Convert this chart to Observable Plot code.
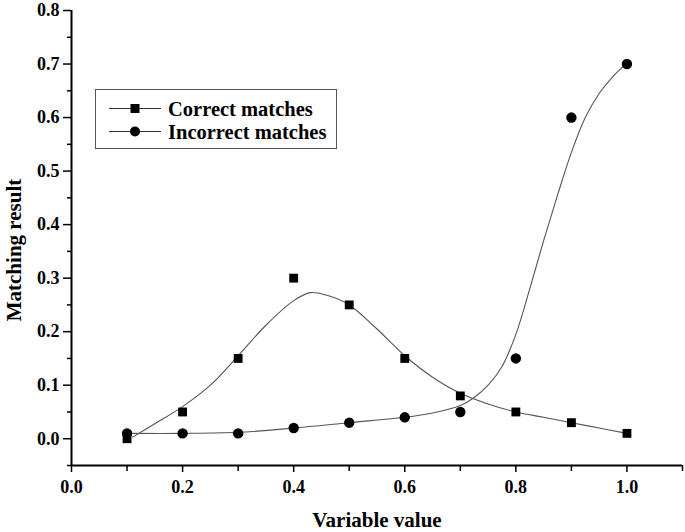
<!DOCTYPE html>
<html>
<head>
<meta charset="utf-8">
<script src="https://cdn.jsdelivr.net/npm/d3@7"></script>
<script src="https://cdn.jsdelivr.net/npm/@observablehq/plot@0.6"></script>
<style>
  body { margin: 0; background: #fff; }
  #wrap { position: relative; width: 685px; height: 532px; }
  #legend { position: absolute; left: 95px; top: 89px; width: 242px; height: 60px;
    border: 1px solid #555; background: #fff; box-sizing: border-box; }
  #legend svg { position: absolute; left: 0; top: 0; }
</style>
</head>
<body>
<div id="wrap"></div>
<script>
// Measured points
const xValues = [0.1, 0.2, 0.3, 0.4, 0.5, 0.6, 0.7, 0.8, 0.9, 1.0];
const correctValues = [0.00, 0.05, 0.15, 0.30, 0.25, 0.15, 0.08, 0.05, 0.03, 0.01];
const incorrectValues = [0.01, 0.01, 0.01, 0.02, 0.03, 0.04, 0.05, 0.15, 0.60, 0.70];

// Fitted curves
const correctFitX = [0.11, 0.15, 0.2, 0.25, 0.3, 0.35, 0.4, 0.43, 0.46, 0.5, 0.55, 0.6, 0.65, 0.7, 0.75, 0.8, 0.85, 0.9, 0.95, 1.0];
const correctFitY = [0.003, 0.028, 0.06, 0.10, 0.155, 0.212, 0.258, 0.273, 0.268, 0.25, 0.205, 0.155, 0.115, 0.085, 0.065, 0.05, 0.04, 0.03, 0.02, 0.01];
const incorrectFitX = [0.11, 0.2, 0.3, 0.4, 0.5, 0.6, 0.65, 0.7, 0.725, 0.75, 0.775, 0.8, 0.825, 0.85, 0.875, 0.9, 0.925, 0.95, 0.975, 0.995];
const incorrectFitY = [0.01, 0.01, 0.012, 0.02, 0.03, 0.04, 0.048, 0.062, 0.077, 0.10, 0.135, 0.195, 0.28, 0.37, 0.455, 0.535, 0.60, 0.645, 0.677, 0.697];

const seriesNames = ["Correct matches", "Incorrect matches"];
const xTitle = "Variable value";
const yTitle = "Matching result";
const xMajorTicks = [0.0, 0.2, 0.4, 0.6, 0.8, 1.0];
const xMinorTicks = [0.1, 0.3, 0.5, 0.7, 0.9, 1.1];
const yMajorTicks = [0.0, 0.1, 0.2, 0.3, 0.4, 0.5, 0.6, 0.7, 0.8];
const yMinorTicks = [-0.05, 0.05, 0.15, 0.25, 0.35, 0.45, 0.55, 0.65, 0.75];

const correctPts = xValues.map((x, i) => ({x, y: correctValues[i]}));
const incorrectPts = xValues.map((x, i) => ({x, y: incorrectValues[i]}));
const correctFit = correctFitX.map((x, i) => ({x, y: correctFitY[i]}));
const incorrectFit = incorrectFitX.map((x, i) => ({x, y: incorrectFitY[i]}));

const font = "'Liberation Serif', 'Times New Roman', serif";

const chart = Plot.plot({
  width: 685,
  height: 532,
  marginLeft: 71,
  marginTop: 10,
  marginRight: 3,
  marginBottom: 67,
  style: { fontFamily: font, fontWeight: "bold", fontSize: "18px", color: "#000", background: "#fff" },
  x: { domain: [0, 1.1], label: null },
  y: { domain: [-0.05, 0.8], label: null },
  marks: [
    Plot.line(correctFit, { x: "x", y: "y", curve: "catmull-rom", stroke: "#555", strokeWidth: 1.1 }),
    Plot.line(incorrectFit, { x: "x", y: "y", curve: "catmull-rom", stroke: "#555", strokeWidth: 1.1 }),
    Plot.dot(correctPts, { x: "x", y: "y", symbol: "square", r: 5, fill: "#000" }),
    Plot.dot(incorrectPts, { x: "x", y: "y", symbol: "circle", r: 5.2, fill: "#000" }),
    Plot.axisX(xMinorTicks, { tickSize: 6, tickFormat: () => "", strokeWidth: 1.5, label: null }),
    Plot.axisX(xMajorTicks, { tickSize: 7, tickPadding: 8, tickFormat: d3.format(".1f"), strokeWidth: 1.5, label: null, fontSize: 18 }),
    Plot.axisY(yMinorTicks, { tickSize: 4, tickFormat: () => "", strokeWidth: 1.5, label: null }),
    Plot.axisY(yMajorTicks, { tickSize: 8, tickPadding: 4, tickFormat: d3.format(".1f"), strokeWidth: 1.5, label: null, fontSize: 18 }),
    Plot.ruleY([-0.05], { stroke: "#000", strokeWidth: 2 }),
    Plot.ruleX([0], { stroke: "#000", strokeWidth: 2 }),
    Plot.text([xTitle], { text: d => d, frameAnchor: "bottom", dy: 61, fontSize: 21, fontWeight: "bold", fill: "#000" }),
    Plot.text([yTitle], { text: d => d, frameAnchor: "left", textAnchor: "middle", lineAnchor: "middle", rotate: -90, dx: -57, dy: 12, fontSize: 21, fontWeight: "bold", fill: "#000" })
  ]
});
document.getElementById("wrap").appendChild(chart);

// legend
const legend = document.createElement("div");
legend.id = "legend";
const ns = "http://www.w3.org/2000/svg";
const lsvg = document.createElementNS(ns, "svg");
lsvg.setAttribute("width", 242);
lsvg.setAttribute("height", 60);
seriesNames.forEach((name, i) => {
  const cy = 18.5 + i * 23;
  const line = document.createElementNS(ns, "line");
  line.setAttribute("x1", 13); line.setAttribute("x2", 65);
  line.setAttribute("y1", cy); line.setAttribute("y2", cy);
  line.setAttribute("stroke", "#333"); line.setAttribute("stroke-width", 1.1);
  lsvg.appendChild(line);
  let m;
  if (i === 0) {
    m = document.createElementNS(ns, "rect");
    m.setAttribute("x", 39 - 4.5); m.setAttribute("y", cy - 4.5);
    m.setAttribute("width", 9); m.setAttribute("height", 9);
  } else {
    m = document.createElementNS(ns, "circle");
    m.setAttribute("cx", 39); m.setAttribute("cy", cy); m.setAttribute("r", 5);
  }
  m.setAttribute("fill", "#000");
  lsvg.appendChild(m);
  const t = document.createElementNS(ns, "text");
  t.setAttribute("x", 72); t.setAttribute("y", cy);
  t.setAttribute("dy", "0.35em");
  t.setAttribute("font-family", font); t.setAttribute("font-weight", "bold"); t.setAttribute("font-size", 20.5);
  t.textContent = name;
  lsvg.appendChild(t);
});
legend.appendChild(lsvg);
document.getElementById("wrap").appendChild(legend);
</script>
</body>
</html>
